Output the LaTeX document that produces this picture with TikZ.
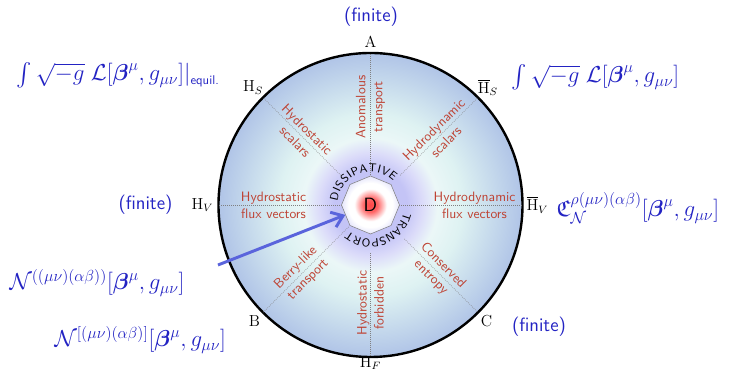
\documentclass[tikz,border=0pt]{standalone}
\usepackage{amsmath,amsfonts,amssymb}
\usepackage{tikz}
\usetikzlibrary{arrows.meta}
\usetikzlibrary{shapes.geometric, decorations.text}
\definecolor{formblue}{RGB}{35,35,195}
\definecolor{labred}{RGB}{190,65,50}
\definecolor{arrblue}{RGB}{90,100,220}
\definecolor{rimsteel}{RGB}{176,196,231}
\definecolor{midmint}{RGB}{222,242,242}
\definecolor{corelav}{RGB}{196,196,246}
\pgfdeclareradialshading{diskshade}{\pgfpoint{0bp}{0bp}}{color(0bp)=(corelav); color(6bp)=(corelav); color(8.5bp)=(corelav!60!white); color(11bp)=(midmint!60!white); color(15bp)=(midmint); color(25bp)=(rimsteel); color(50bp)=(rimsteel)}
\pgfdeclareradialshading{coreshade}{\pgfpoint{0bp}{0bp}}{color(0bp)=(red!72); color(6bp)=(red!60); color(14bp)=(white); color(19bp)=(white); color(25bp)=(corelav!45); color(50bp)=(corelav!45)}

\begin{document}
\begin{tikzpicture}[x=0.75pt,y=0.75pt,
  rimlabel/.style={font=\large},
  sector/.style={text=labred,font=\fontsize{10.2}{12.8}\selectfont\sffamily,align=center},
  spoke/.style={gray,densely dotted,line width=0.5pt},
  formula/.style={text=formblue,font=\LARGE,inner sep=1pt},
  finite/.style={text=formblue,font=\Large\sffamily},
  flowarrow/.style={arrblue,line width=2.2pt,-{Straight Barb[length=8pt,width=12pt]}},
  curvedword/.style={decorate,decoration={text along path,text align={fit to path},text={|\sffamily\fontsize{8.6}{10}\selectfont|#1}}}]
      \useasboundingbox (-370.5,-168) rectangle (369.5,205);
      \draw[line width=1.8pt,shading=diskshade] (0,0) circle[radius=152];
      \foreach \a/\r in {90/28,45/42,0/29,-45/48,-90/48,-135/31,180/29,135/42}
        \draw[spoke] (\a:\r) -- (\a:152);
      \node[regular polygon,regular polygon sides=8,shape border rotate=22.5,minimum size=43.5pt,inner sep=0pt,draw=gray,shading=coreshade,font=\Large\sffamily] (oct) {D};
      \path[curvedword=DISSIPATIVE] (174:33) arc[start angle=174,end angle=46,radius=33];
      \path[curvedword=TRANSPORT] (-12:34) arc[start angle=-12,end angle=-128,radius=34];
      \foreach \a/\r/\t/\txt in {90/98/90/{Anomalous\\transport},45/98/45/{Hydrodynamic\\scalars},0/104/0/{Hydrodynamic\\flux vectors},-45/94/-45/{Conserved\\entropy},-90/98/90/{Hydrostatic\\forbidden},-135/97/45/{Berry-like\\transport},180/97/0/{Hydrostatic\\flux vectors},135/98/-45/{Hydrostatic\\scalars}}
        \node[sector,rotate=\t] (sec\a) at (\a:\r) {\txt};
      \foreach \a/\r/\nm/\txt in {90/163/A/A,45/166/HSbar/$\overline{\mathrm{H}}_S$,0/167/HVbar/$\overline{\mathrm{H}}_V$,-45/164/C/C,-90/158/HF/$\mathrm{H}_F$,-135/164/B/B,180/168/HV/$\mathrm{H}_V$,135/166/HS/$\mathrm{H}_S$}
        \node[rimlabel] (\nm) at (\a:\r) {\txt};
      \node[finite] (finA) at (0.5,188) {(finite)};
      \node[finite] (finV) at (-225,0) {(finite)};
      \node[finite] (finC) at (168.5,-122) {(finite)};
      \node[formula,anchor=west] (lagstat) at (-355.5,130) {$\int\sqrt{-g}\;\mathcal{L}[\boldsymbol{\beta}^{\mu},g_{\mu\nu}]|_{\mbox{\fontsize{9.5}{10}\selectfont\sffamily equil.}}$};
      \node[formula,anchor=west] (lagdyn) at (139.5,128) {$\int\sqrt{-g}\;\mathcal{L}[\boldsymbol{\beta}^{\mu},g_{\mu\nu}]$};
      \node[formula,anchor=west] (frakC) at (184.5,-3) {$\mathfrak{C}_{\mathcal{N}}^{\rho(\mu\nu)(\alpha\beta)}[\boldsymbol{\beta}^{\mu},g_{\mu\nu}]$};
      \node[formula,anchor=west] (nsym) at (-362.5,-78) {$\mathcal{N}^{((\mu\nu)(\alpha\beta))}[\boldsymbol{\beta}^{\mu},g_{\mu\nu}]$};
      \node[formula,anchor=west] (nanti) at (-317.5,-135) {$\mathcal{N}^{[(\mu\nu)(\alpha\beta)]}[\boldsymbol{\beta}^{\mu},g_{\mu\nu}]$};
      \coordinate (arrtail) at (-152.5,-60);
      \draw[flowarrow] (arrtail) -- (oct);
\end{tikzpicture}
\end{document}
